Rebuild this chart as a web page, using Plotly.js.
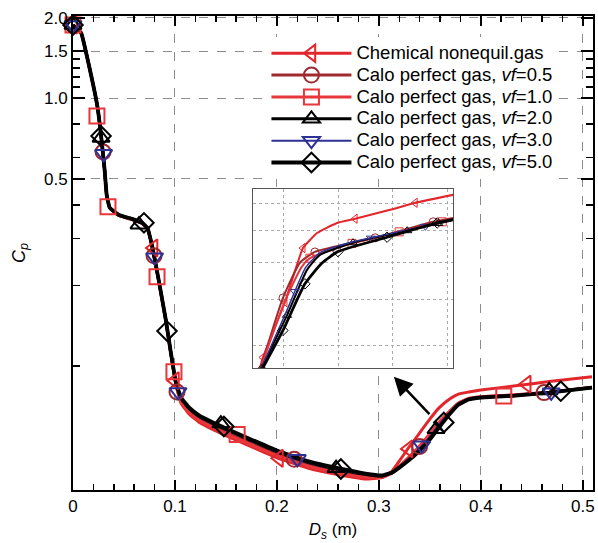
<!DOCTYPE html>
<html>
<head>
<meta charset="utf-8">
<script src="https://cdn.plot.ly/plotly-3.0.1.min.js"></script>
<style>html,body{margin:0;padding:0;background:#fff;}#chart{width:598px;height:543px;}</style>
</head>
<body>
<div id="chart"></div>
<script>
// ---- main chart data: Ds (m) grid and Cp per series ----
const dsGrid = [0,0.008,0.016,0.024,0.028,0.031,0.033,0.036,0.045,0.058,0.068,0.073,0.078,0.084,0.091,0.096,0.101,0.106,0.114,0.124,0.146,0.173,0.200,0.231,0.261,0.287,0.303,0.313,0.320,0.329,0.339,0.349,0.359,0.369,0.378,0.388,0.400,0.434,0.467,0.509];
const cpChem = [1.877,1.753,1.309,0.928,0.699,0.540,0.436,0.390,0.367,0.354,0.342,0.328,0.276,0.210,0.149,0.112,0.085,0.0725,0.0660,0.0615,0.0558,0.0503,0.0454,0.0415,0.0392,0.0378,0.0383,0.0405,0.0441,0.0494,0.0555,0.0626,0.0697,0.0751,0.0785,0.0799,0.0813,0.0843,0.0874,0.0912];
const cpVf05 = [1.877,1.753,1.309,0.928,0.699,0.540,0.436,0.390,0.365,0.352,0.340,0.326,0.276,0.209,0.148,0.111,0.085,0.074,0.0678,0.0633,0.0574,0.0517,0.0467,0.0426,0.0402,0.0386,0.0384,0.0398,0.0421,0.0453,0.0495,0.0548,0.0612,0.0672,0.0725,0.0755,0.0768,0.0780,0.0798,0.0832];
const cpVf10 = [1.877,1.753,1.309,0.928,0.699,0.540,0.436,0.390,0.365,0.352,0.340,0.326,0.275,0.208,0.148,0.111,0.085,0.073,0.0670,0.0625,0.0567,0.0510,0.0462,0.0422,0.0398,0.0384,0.0383,0.0398,0.0422,0.0455,0.0498,0.0552,0.0616,0.0675,0.0727,0.0756,0.0767,0.0779,0.0797,0.0831];
const cpVf20 = [1.877,1.753,1.309,0.928,0.699,0.540,0.436,0.390,0.366,0.353,0.341,0.327,0.276,0.209,0.149,0.112,0.086,0.0755,0.0692,0.0646,0.0588,0.0530,0.0478,0.0436,0.0410,0.0393,0.0388,0.0399,0.0418,0.0446,0.0484,0.0533,0.0597,0.0663,0.0720,0.0751,0.0764,0.0776,0.0796,0.0831];
const cpVf30 = [1.877,1.753,1.309,0.928,0.699,0.540,0.436,0.390,0.366,0.353,0.341,0.327,0.276,0.209,0.149,0.112,0.086,0.0758,0.0695,0.0649,0.0590,0.0532,0.0480,0.0437,0.0411,0.0394,0.0388,0.0399,0.0419,0.0448,0.0487,0.0537,0.0602,0.0666,0.0722,0.0752,0.0765,0.0777,0.0797,0.0831];
const cpVf50 = [1.877,1.753,1.309,0.928,0.699,0.540,0.436,0.390,0.367,0.3544,0.3425,0.328,0.2763,0.2099,0.1489,0.1121,0.0866,0.0762,0.0699,0.0653,0.0594,0.0535,0.0483,0.0440,0.0414,0.0396,0.0390,0.0400,0.0417,0.0443,0.0479,0.0526,0.0589,0.0658,0.0717,0.0749,0.0762,0.0775,0.0795,0.0830];

// marker (symbol) points of each series
const mkChemX = [0,0.079,0.100,0.202,0.329,0.445];
const mkChemY = [1.877,0.276,0.088,0.0452,0.049,0.0855];
const mkVf05X = [0,0.0295,0.0795,0.102,0.217,0.340,0.462];
const mkVf05Y = [1.877,0.63,0.258,0.080,0.0448,0.050,0.0795];
const mkVf10X = [0,0.0235,0.0343,0.0824,0.099,0.161,0.4225];
const mkVf10Y = [1.877,0.859,0.393,0.2154,0.0952,0.0555,0.0772];
const mkVf20X = [0,0.0275,0.0647,0.145,0.258,0.356,0.467];
const mkVf20Y = [1.877,0.711,0.337,0.0609,0.0415,0.058,0.081];
const mkVf30X = [0,0.030,0.080,0.103,0.220,0.342,0.469];
const mkVf30Y = [1.877,0.62,0.255,0.080,0.0450,0.0505,0.0797];
const mkVf50X = [0,0.0275,0.0696,0.0922,0.148,0.2627,0.3637,0.4784];
const mkVf50Y = [1.877,0.723,0.3426,0.135,0.0594,0.0412,0.0615,0.0805];

// ---- inset (zoom of reattachment region) ----
const inChemX = [0.3279,0.3307,0.3509,0.3675,0.3740,0.3804,0.3988,0.4154,0.4476,0.4706,0.5056];
const inChemY = [0.0357,0.0377,0.0494,0.0643,0.0669,0.0692,0.0727,0.0742,0.0775,0.0802,0.0834];
const inChemMX = [0.3307,0.3509,0.3675,0.4154,0.4706];
const inChemMY = [0.0377,0.0494,0.0643,0.0742,0.0802];
const inVf05X = [0.3285,0.3491,0.3650,0.3785,0.4000,0.4338,0.4872,0.5056];
const inVf05Y = [0.0357,0.0504,0.0600,0.0631,0.0650,0.0676,0.0731,0.0745];
const inVf05MX = [0.3491,0.3785,0.4338,0.4872];
const inVf05MY = [0.0504,0.0631,0.0676,0.0731];
const inVf10X = [0.3285,0.3500,0.3660,0.3739,0.4000,0.4126,0.4559,0.4955,0.5056];
const inVf10Y = [0.0357,0.0490,0.0585,0.0612,0.0645,0.0658,0.0696,0.0731,0.0742];
const inVf10MX = [0.3739,0.4126,0.4559,0.4955];
const inVf10MY = [0.0612,0.0658,0.0696,0.0731];
const inVf20X = [0.3290,0.3528,0.3712,0.3831,0.4135,0.4633,0.4918,0.5056];
const inVf20Y = [0.0357,0.0463,0.0578,0.0622,0.0660,0.0700,0.0725,0.0737];
const inVf20MX = [0.3528,0.4135,0.4633,0.4918];
const inVf20MY = [0.0463,0.0660,0.0700,0.0725];
const inVf30X = [0.3290,0.3520,0.3700,0.3830,0.4135,0.4633,0.5056];
const inVf30Y = [0.0357,0.0470,0.0585,0.0628,0.0663,0.0702,0.0739];
const inVf30MX = [0.3600,0.4300,0.4800];
const inVf30MY = [0.0520,0.0675,0.0715];
const inVf50X = [0.3297,0.3491,0.3693,0.3850,0.3997,0.4448,0.4909,0.5056];
const inVf50Y = [0.0355,0.0430,0.0540,0.0598,0.0632,0.0678,0.0727,0.0740];
const inVf50MX = [0.3297,0.3491,0.3693,0.3997,0.4448,0.4909];
const inVf50MY = [0.0355,0.0430,0.0540,0.0632,0.0678,0.0727];

const seriesNames = ['Chemical nonequil.gas','Calo perfect gas, <i>vf</i>=0.5','Calo perfect gas, <i>vf</i>=1.0','Calo perfect gas, <i>vf</i>=2.0','Calo perfect gas, <i>vf</i>=3.0','Calo perfect gas, <i>vf</i>=5.0'];
const xTicks = [0,0.1,0.2,0.3,0.4,0.5];
const yTicks = [0.5,1.0,1.5,2.0];
const yTickText = ['0.5','1.0','1.5','2.0'];
const yMinor = [0.1,0.2,0.3,0.4,0.6,0.8,1.1,1.2,1.3,1.4];
const insetXGrid = [0.35,0.40,0.45,0.50];
const insetYGrid = [0.04,0.05,0.06,0.07,0.08];

// ---- styles ----
const styles = [
  {color:'#e3262c', width:3,   symbol:'triangle-left-open'},
  {color:'#9e2a2f', width:3,   symbol:'circle-open'},
  {color:'#e8363b', width:3,   symbol:'square-open'},
  {color:'#000000', width:3,   symbol:'triangle-up-open'},
  {color:'#2e3192', width:2,   symbol:'triangle-down-open'},
  {color:'#000000', width:3.8, symbol:'diamond-open'}
];
const mainY = [cpChem,cpVf05,cpVf10,cpVf20,cpVf30,cpVf50];
const mainMX = [mkChemX,mkVf05X,mkVf10X,mkVf20X,mkVf30X,mkVf50X];
const mainMY = [mkChemY,mkVf05Y,mkVf10Y,mkVf20Y,mkVf30Y,mkVf50Y];
const inX = [inChemX,inVf05X,inVf10X,inVf20X,inVf30X,inVf50X];
const inY = [inChemY,inVf05Y,inVf10Y,inVf20Y,inVf30Y,inVf50Y];
const inMX = [inChemMX,inVf05MX,inVf10MX,inVf20MX,inVf30MX,inVf50MX];
const inMY = [inChemMY,inVf05MY,inVf10MY,inVf20MY,inVf30MY,inVf50MY];

const traces = [];
for (let i = 0; i < 6; i++) {
  const s = styles[i];
  traces.push({x: dsGrid, y: mainY[i], mode:'lines', line:{color:s.color, width:s.width, shape:'spline', smoothing:0.3}, showlegend:false, hoverinfo:'skip', xaxis:'x', yaxis:'y'});
}
for (let i = 0; i < 6; i++) {
  const s = styles[i];
  traces.push({x: mainMX[i], y: mainMY[i], mode:'markers', cliponaxis:false, marker:{symbol:s.symbol, size:15, color:s.color, line:{color:s.color, width:2}}, showlegend:false, hoverinfo:'skip', xaxis:'x', yaxis:'y'});
}
for (let i = 0; i < 6; i++) {
  const s = styles[i];
  traces.push({x: inX[i], y: inY[i], mode:'lines', line:{color:s.color, width:Math.max(1.5, s.width-1), shape:'spline', smoothing:0.5}, showlegend:false, hoverinfo:'skip', xaxis:'x2', yaxis:'y2'});
  traces.push({x: inMX[i], y: inMY[i], mode:'markers', marker:{symbol:s.symbol, size:8, color:s.color, line:{color:s.color, width:1}}, showlegend:false, hoverinfo:'skip', xaxis:'x2', yaxis:'y2'});
}
for (let i = 0; i < 6; i++) {
  const s = styles[i];
  traces.push({x:[null], y:[null], name: '<span style="font-size:18.5px">' + seriesNames[i] + '</span>', mode:'lines+markers', line:{color:s.color, width:s.width}, marker:{symbol:s.symbol, size:15, color:s.color, line:{color:s.color, width:2}}, xaxis:'x', yaxis:'y'});
}

const font = 'Liberation Sans, Arial, sans-serif';
const layout = {
  width:598, height:543,
  margin:{l:73, r:5, t:16, b:53, pad:0},
  paper_bgcolor:'#ffffff', plot_bgcolor:'#ffffff',
  font:{family:font, size:17, color:'#000'},
  showlegend:true,
  legend:{x:0.372, y:0.955, xanchor:'left', yanchor:'top', bgcolor:'#ffffff', borderwidth:0, font:{family:font, size:14.5, color:'#000'}, itemwidth:80, tracegroupgap:0},
  xaxis:{
    domain:[0,1], range:[0,0.51], tickvals:xTicks, ticktext:xTicks.map(v=>v===0?'0':v.toFixed(1)),
    ticks:'inside', ticklen:10, tickwidth:2, tickcolor:'#000',
    showline:true, linewidth:2, linecolor:'#000', mirror:'allticks',
    showgrid:true, gridcolor:'#8c8c8c', gridwidth:1, griddash:'dash', zeroline:false,
    minor:{dtick:0.02, tick0:0, ticks:'inside', ticklen:6, tickwidth:1.5, tickcolor:'#000', showgrid:false},
    tickfont:{size:17}, title:{text:'<i>D</i><sub><i>s</i></sub> (m)', font:{size:17}, standoff:8}
  },
  yaxis:{
    domain:[0,1], type:'log', range:[Math.log10(0.0344), Math.log10(2.03)],
    tickvals:yTicks, ticktext:yTickText,
    ticks:'inside', ticklen:12, tickwidth:2, tickcolor:'#000',
    showline:true, linewidth:2, linecolor:'#000', mirror:'allticks',
    showgrid:true, gridcolor:'#8c8c8c', gridwidth:1, griddash:'dash', zeroline:false,
    minor:{tickmode:'array', tickvals:yMinor, ticks:'inside', ticklen:7, tickwidth:1.5, tickcolor:'#000', showgrid:false},
    tickfont:{size:17}, title:{text:'<i>C</i><sub><i>p</i></sub>', font:{size:18}, standoff:14}
  },
  xaxis2:{
    domain:[0.346,0.731], anchor:'y2', range:[0.3215,0.5055],
    tickvals:insetXGrid, showticklabels:false, ticks:'',
    showline:true, linewidth:1, linecolor:'#555', mirror:true,
    showgrid:true, gridcolor:'#aaaaaa', gridwidth:1, griddash:'dot', zeroline:false
  },
  yaxis2:{
    domain:[0.2574,0.635], anchor:'x2', type:'log', range:[Math.log10(0.0358), Math.log10(0.0858)],
    tickvals:insetYGrid, showticklabels:false, ticks:'',
    showline:true, linewidth:1, linecolor:'#555', mirror:true,
    showgrid:true, gridcolor:'#aaaaaa', gridwidth:1, griddash:'dot', zeroline:false
  },
  annotations:[{
    x:0.3147, y:Math.log10(0.0912), xref:'x', yref:'y', text:'', showarrow:true,
    ax:37, ay:39, axref:'pixel', ayref:'pixel',
    arrowhead:2, arrowsize:1.5, arrowwidth:2.5, arrowcolor:'#000', standoff:0, startstandoff:0
  }]
};

Plotly.newPlot('chart', traces, layout, {staticPlot:true, displayModeBar:false});
</script>
</body>
</html>
